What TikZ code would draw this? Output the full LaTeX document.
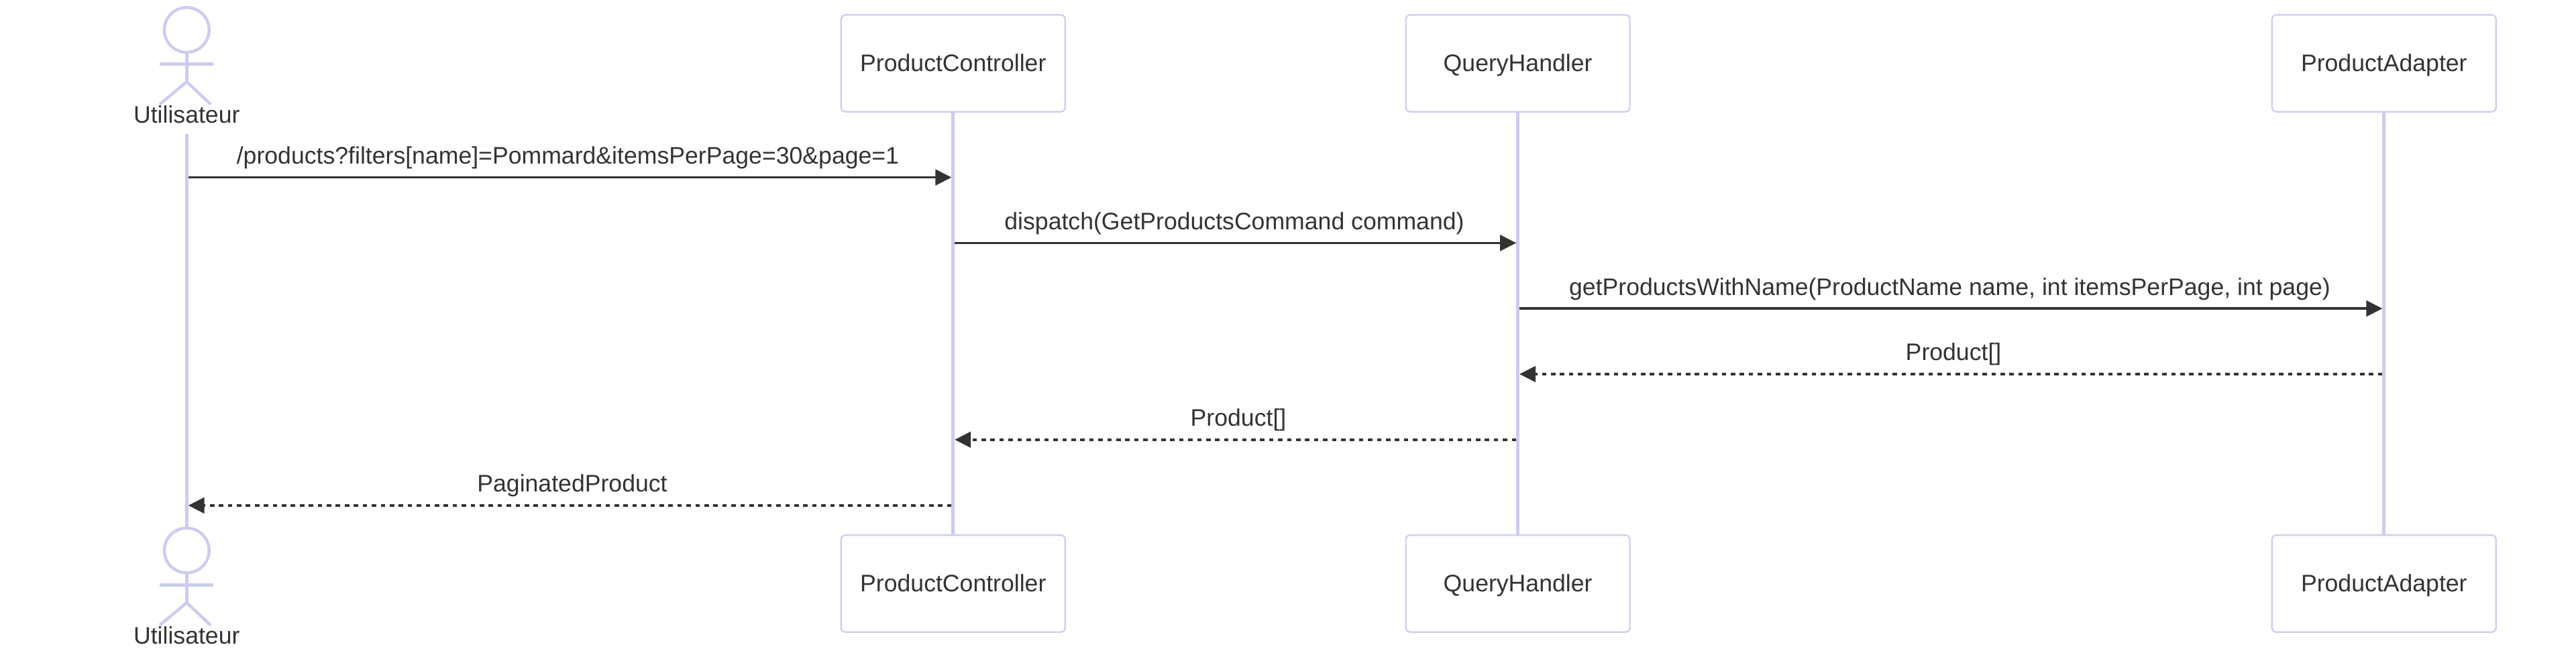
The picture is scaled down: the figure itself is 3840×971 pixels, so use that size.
\documentclass[tikz,border=0pt]{standalone}
\usepackage{fontspec}
\setmainfont{Liberation Sans}
\usetikzlibrary{arrows.meta}
\definecolor{lav}{HTML}{CCCCF0}
\definecolor{ink}{HTML}{333333}
\tikzset{
  x=0.2pt,y=-0.2pt,
  txt/.style={text=ink,font=\fontsize{7.126}{8.6}\selectfont,inner sep=0pt,outer sep=0pt,anchor=base},
  part/.style={draw=lav,line width=0.44pt,fill=white,rounded corners=1.3pt,minimum width=66.8pt,minimum height=28.9pt,inner sep=0pt,outer sep=0pt},
  life/.style={draw=lav,line width=1pt},
  stick/.style={draw=lav,line width=0.88pt},
  head/.style={circle,draw=lav,line width=0.88pt,minimum size=13.36pt,inner sep=0pt,outer sep=0pt},
  msg/.style={draw=ink,line width=0.72pt,-{Triangle[length=4.8pt,width=4.7pt,fill=ink]}},
  ret/.style={msg,dash pattern=on 1.34pt off 1.34pt},
}
\begin{document}
\begin{tikzpicture}
\useasboundingbox (0,0) rectangle (3840,971);
% participants, top
\node[part] (pcT) at (1420.8,94.5) {};
\node[part] (qhT) at (2262.6,94.5) {};
\node[part] (paT) at (3553.8,94.5) {};
% participants, bottom
\node[part] (pcB) at (1420.8,870.5) {};
\node[part] (qhB) at (2262.6,870.5) {};
\node[part] (paB) at (3553.8,870.5) {};
% lifelines
\coordinate (uStart) at (278.3,200);
\node[head] (headT) at (278.3,44.6) {};
\node[head] (headB) at (278.3,821) {};
\draw[life] (uStart) -- (headB.north);
\draw[life] (pcT.south) -- (pcB.north);
\draw[life] (qhT.south) -- (qhB.north);
\draw[life] (paT.south) -- (paB.north);
% participant labels
\node[txt] (pcTl) at (1420.8,107) {ProductController};
\node[txt] (qhTl) at (2262.6,107) {QueryHandler};
\node[txt] (paTl) at (3553.8,107) {ProductAdapter};
\node[txt] (pcBl) at (1420.8,882) {ProductController};
\node[txt] (qhBl) at (2262.6,882) {QueryHandler};
\node[txt] (paBl) at (3553.8,882) {ProductAdapter};
% actor, top
\coordinate (hipT) at (278.3,122);
\coordinate (armLT) at (238.2,95.7);
\coordinate (armRT) at (318.4,95.7);
\coordinate (legLT) at (238.2,155.5);
\coordinate (legRT) at (314,155.5);
\draw[stick] (headT.south) -- (hipT);
\draw[stick] (armLT) -- (armRT);
\draw[stick] (legLT) -- (hipT) -- (legRT);
\node[txt] (uT) at (278.3,184) {Utilisateur};
% actor, bottom
\coordinate (hipB) at (278.3,899);
\coordinate (armLB) at (238.2,872.7);
\coordinate (armRB) at (318.4,872.7);
\coordinate (legLB) at (238.2,932.5);
\coordinate (legRB) at (314,932.5);
\draw[stick] (headB.south) -- (hipB);
\draw[stick] (armLB) -- (armRB);
\draw[stick] (legLB) -- (hipB) -- (legRB);
\node[txt] (uB) at (278.3,961) {Utilisateur};
% messages
\coordinate (m1a) at (280.7,264.6);   \coordinate (m1b) at (1418.4,264.6);
\coordinate (m2a) at (1423.2,362.4);\coordinate (m2b) at (2260.2,362.4);
\coordinate (m3a) at (2265,460.2);  \coordinate (m3b) at (3551.4,460.2);
\coordinate (m4a) at (3551.4,558);\coordinate (m4b) at (2265,558);
\coordinate (m5a) at (2260.2,655.8);\coordinate (m5b) at (1423.2,655.8);
\coordinate (m6a) at (1418.4,753.9);\coordinate (m6b) at (280.7,753.9);
\draw[msg] (m1a) -- (m1b);
\draw[msg] (m2a) -- (m2b);
\draw[msg] (m3a) -- (m3b);
\draw[ret] (m4a) -- (m4b);
\draw[ret] (m5a) -- (m5b);
\draw[ret] (m6a) -- (m6b);
\node[txt] (l1) at (846.5,244.6) {/products?filters[name]=Pommard\&itemsPerPage=30\&page=1};
\node[txt] (l2) at (1840,342.4) {dispatch(GetProductsCommand command)};
\node[txt] (l3) at (2906.5,440.2) {getProductsWithName(ProductName name, int itemsPerPage, int page)};
\node[txt] (l4) at (2912,538) {Product[]};
\node[txt] (l5) at (1846,635.8) {Product[]};
\node[txt] (l6) at (853,733.9) {PaginatedProduct};
\end{tikzpicture}
\end{document}
